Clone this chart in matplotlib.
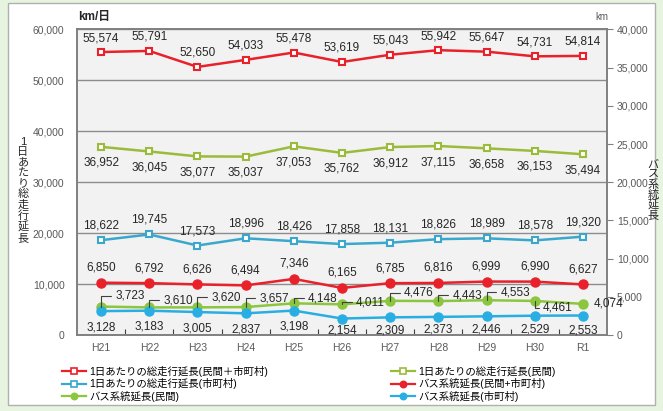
import matplotlib
matplotlib.use('Agg')
import matplotlib.pyplot as plt
from matplotlib.lines import Line2D
from matplotlib.patches import Rectangle
import numpy as np

plt.rcParams['font.family'] = ['Liberation Sans', 'Noto Sans CJK JP']

# データ
years = ['H21', 'H22', 'H23', 'H24', 'H25', 'H26', 'H27', 'H28', 'H29', 'H30', 'R1']

run_total = [55574, 55791, 52650, 54033, 55478, 53619, 55043, 55942, 55647, 54731, 54814]
run_private = [36952, 36045, 35077, 35037, 37053, 35762, 36912, 37115, 36658, 36153, 35494]
run_city = [18622, 19745, 17573, 18996, 18426, 17858, 18131, 18826, 18989, 18578, 19320]

route_total = [6850, 6792, 6626, 6494, 7346, 6165, 6785, 6816, 6999, 6990, 6627]
route_private = [3723, 3610, 3620, 3657, 4148, 4011, 4476, 4443, 4553, 4461, 4074]
route_city = [3128, 3183, 3005, 2837, 3198, 2154, 2309, 2373, 2446, 2529, 2553]

legend_labels = ['1日あたりの総走行延長(民間＋市町村)', '1日あたりの総走行延長(民間)',
                 '1日あたりの総走行延長(市町村)', 'バス系統延長(民間+市町村)',
                 'バス系統延長(民間)', 'バス系統延長(市町村)']

# ラベル位置 (px)
green_dx = [14, 14, 14, 14, 14, 14, 14, 14, 14, 8, 11]
green_dy = [11, 7, 10, 9, 5, 2, 8, 6, 8, -7, 0]
city_dy = [-16, -16, -16, -16, -16, -12, -13, -13, -13, -14, -15]

RED = '#e8212b'
OLIVE = '#9bbb3b'
BLUE = '#3aa8cc'
GREEN = '#8cc63e'
CYAN = '#29aee3'
GRAY = '#808080'
TXT = '#262626'

fig = plt.figure(figsize=(6.63, 4.11), dpi=100)
fig.patch.set_facecolor('#e7f4df')
fig.patches.append(Rectangle((8 / 663, 1 - 405 / 411), 647 / 663, 402 / 411,
                             transform=fig.transFigure, facecolor='white',
                             edgecolor='#b0b0b0', lw=1.0, zorder=-10))

ax = fig.add_axes([77 / 663, 1 - 335 / 411, 530 / 663, 305.5 / 411])
ax.set_facecolor('#f2f2f2')
ax2 = ax.twinx()

x = np.arange(len(years))
dpi_scale = 72 / 100.0  # px -> pt


def put_labels(axis, vals, dy_px, dx_px=0, ha='center'):
    for i, v in enumerate(vals):
        dx = dx_px[i] if isinstance(dx_px, list) else dx_px
        dy = dy_px[i] if isinstance(dy_px, list) else dy_px
        axis.annotate('{:,}'.format(v), (x[i], v),
                      xytext=(dx * dpi_scale, dy * dpi_scale), textcoords='offset points',
                      ha=ha, va='center', fontsize=8.5, color=TXT, zorder=6,
                      annotation_clip=False)


# 走行延長 (左軸)
sq = dict(marker='s', markersize=5, markerfacecolor='white', markeredgewidth=1.5, lw=1.8)
ax.plot(x, run_total, color=RED, zorder=4, **sq)
ax.plot(x, run_private, color=OLIVE, zorder=4, **sq)
ax.plot(x, run_city, color=BLUE, zorder=4, **sq)
put_labels(ax, run_total, 14)
put_labels(ax, run_private, -16)
put_labels(ax, run_city, 14.5)

# 系統延長 (右軸)
ci = dict(marker='o', markersize=6.5, lw=1.8)
ax2.plot(x, route_total, color=RED, zorder=4, **ci)
ax2.plot(x, route_private, color=GREEN, zorder=4, **ci)
ax2.plot(x, route_city, color=CYAN, zorder=4, **ci)
put_labels(ax2, route_total, 15)
put_labels(ax2, route_city, city_dy)

for i, v in enumerate(route_private):
    arrow = None
    if i < len(route_private) - 1:
        arrow = dict(arrowstyle='-', color='#404040', lw=0.8, shrinkA=1, shrinkB=0,
                     relpos=(0, 0.5), connectionstyle='angle,angleA=0,angleB=90,rad=0')
    ax2.annotate('{:,}'.format(v), (x[i], v),
                 xytext=(green_dx[i] * dpi_scale, green_dy[i] * dpi_scale),
                 textcoords='offset points', ha='left', va='center',
                 fontsize=8.5, color=TXT, zorder=6, arrowprops=arrow,
                 annotation_clip=False)

ax.set_xlim(-0.5, len(years) - 0.5)
ax.set_ylim(0, 60000)
ax2.set_ylim(0, 40000)
ax.set_yticks(np.arange(0, 60001, 10000))
ax2.set_yticks(np.arange(0, 40001, 5000))
ax.yaxis.set_major_formatter(matplotlib.ticker.StrMethodFormatter('{x:,.0f}'))
ax2.yaxis.set_major_formatter(matplotlib.ticker.StrMethodFormatter('{x:,.0f}'))

ax.set_xticks(x)
ax.set_xticklabels(years)
ax.set_xticks(np.arange(0.5, len(years) - 1, 1), minor=True)
ax.tick_params(axis='x', which='major', length=0, pad=6, labelsize=7.5, labelcolor='#595959')
ax.tick_params(axis='x', which='minor', direction='in', length=4, width=0.8, color='#404040')
ax.tick_params(axis='y', length=0, pad=9, labelsize=7.5, labelcolor='#595959')
ax2.tick_params(axis='y', length=4, width=0.8, color=GRAY, pad=3, labelsize=7.5,
                labelcolor='#595959')

ax.yaxis.grid(True, color='#8c8c8c', lw=1.0)
ax.set_axisbelow(True)
for a in (ax, ax2):
    for s in a.spines.values():
        s.set_color(GRAY)
        s.set_linewidth(1.2)

# 軸タイトル
fig.text(78 / 663, 1 - 17 / 411, 'km/日', fontsize=8.5, color=TXT, fontweight='bold',
         ha='left', va='center')
fig.text(602 / 663, 1 - 17 / 411, 'km', fontsize=7, color='#595959', ha='center', va='center')
fig.text(23 / 663, 1 - 190 / 411, '\n'.join('1日あたり総走行延長'), fontsize=8, color=TXT,
         ha='center', va='center', linespacing=1.05)
fig.text(653 / 663, 1 - 190 / 411, '\n'.join('バス系統延長'), fontsize=8, color=TXT,
         ha='center', va='center', linespacing=0.95)

# 凡例
def h(color, marker, face):
    return Line2D([0], [0], color=color, lw=1.6, marker=marker, markersize=4.5,
                  markerfacecolor=face, markeredgewidth=1.2)


handles = [h(RED, 's', 'white'), h(OLIVE, 's', 'white'), h(BLUE, 's', 'white'),
           h(RED, 'o', RED), h(GREEN, 'o', GREEN), h(CYAN, 'o', CYAN)]
order = [0, 2, 4, 1, 3, 5]
fig.legend([handles[i] for i in order], [legend_labels[i] for i in order],
           loc='upper left', bbox_to_anchor=(62 / 663, 1 - 366 / 411), ncol=2,
           frameon=False, fontsize=7.5, handlelength=2.3, handletextpad=0.3,
           labelspacing=0.12, columnspacing=11.8, borderaxespad=0, borderpad=0)

fig.savefig('out.png', dpi=100, facecolor=fig.get_facecolor())
